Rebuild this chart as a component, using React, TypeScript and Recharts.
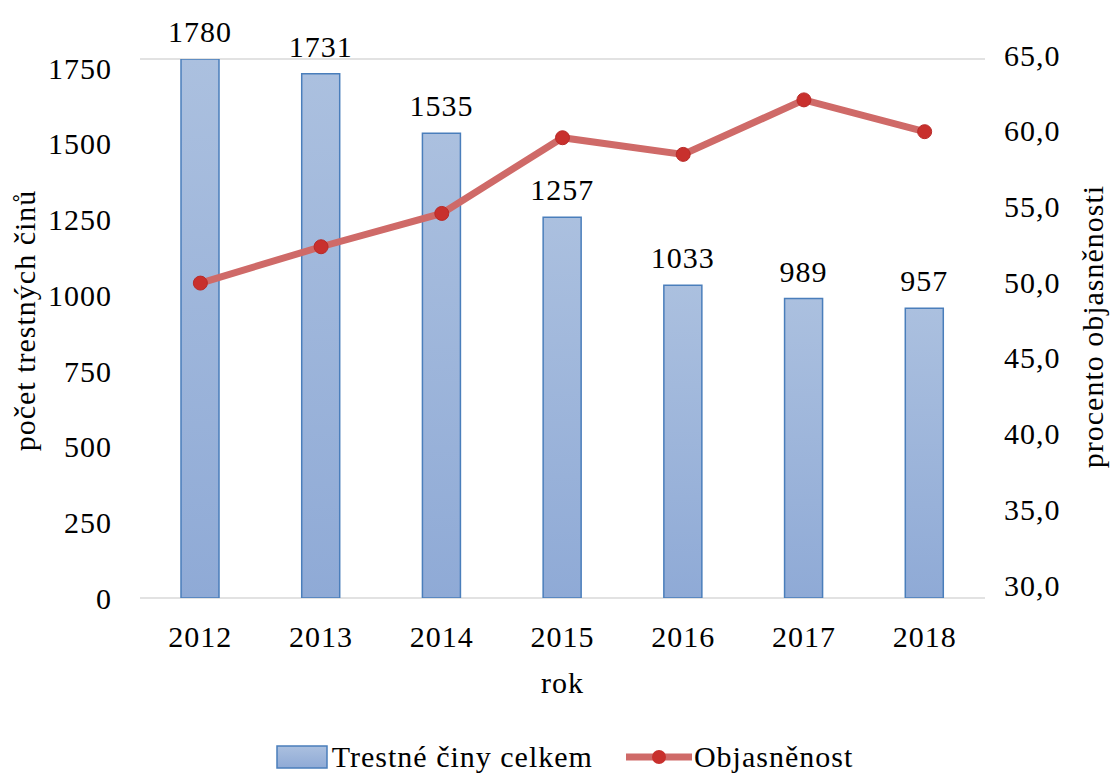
import {
  Bar,
  CartesianGrid,
  ComposedChart,
  LabelList,
  Legend,
  Line,
  XAxis,
  YAxis
} from "recharts";

const years = ["2012", "2013", "2014", "2015", "2016", "2017", "2018"];
const crimes = [1780, 1731, 1535, 1257, 1033, 989, 957];
const clearance = [50.8, 53.2, 55.4, 60.4, 59.3, 62.9, 60.8];
const countTicks = [0, 250, 500, 750, 1000, 1250, 1500, 1750];
const pctTicks = [30, 35, 40, 45, 50, 55, 60, 65];

const data = years.map((rok, i) => ({ rok, crimes: crimes[i], clearance: clearance[i] }));

const FONT = "'Liberation Serif', 'Times New Roman', serif";
const FS = 30;
const BAR_STROKE = "#4a7ebb";
const LINE_COLOR = "#cf6a68";
const DOT_COLOR = "#c8302d";

const fmtPct = (v: number) => v.toFixed(1).replace(".", ",");

// right axis labels sit a bit above their gridlines in the original
function RightTick({ x, y, payload }: any) {
  return (
    <text x={x} y={y - 13} dy="0.35em" textAnchor="start" fontSize={FS} fill="#000" fontFamily={FONT}>
      {fmtPct(payload.value)}
    </text>
  );
}

function renderLegend() {
  return (
    <div
      style={{
        display: "flex",
        justifyContent: "center",
        alignItems: "center",
        paddingLeft: 14,
        fontFamily: FONT,
        fontSize: FS,
        color: "#000"
      }}
    >
      <svg width={52} height={24} style={{ marginRight: 4 }}>
        <defs>
          <linearGradient id="legBar" x1="0" y1="0" x2="0" y2="1">
            <stop offset="0%" stopColor="#abc0df" />
            <stop offset="100%" stopColor="#8faad6" />
          </linearGradient>
        </defs>
        <rect x={1} y={1} width={50} height={22} fill="url(#legBar)" stroke={BAR_STROKE} strokeWidth={1.5} />
      </svg>
      <span>Trestné činy celkem</span>
      <svg width={66} height={24} style={{ marginLeft: 33, marginRight: 2 }}>
        <line x1={0} y1={12} x2={66} y2={12} stroke={LINE_COLOR} strokeWidth={7} />
        <circle cx={33} cy={12} r={7} fill={DOT_COLOR} />
      </svg>
      <span>Objasněnost</span>
    </div>
  );
}

export default function App() {
  return (
    <div
      style={{
        position: "absolute",
        left: 0,
        top: 0,
        width: 1115,
        height: 773,
        background: "#fff",
        fontFamily: FONT,
        letterSpacing: "1px"
      }}
    >
      <ComposedChart
        width={1115}
        height={773}
        data={data}
        margin={{ top: 59, right: 0, bottom: 0, left: 0 }}
        barSize={38}
      >
        <defs>
          <linearGradient id="barGrad" x1="0" y1="0" x2="0" y2="1">
            <stop offset="0%" stopColor="#abc0df" />
            <stop offset="100%" stopColor="#8faad6" />
          </linearGradient>
        </defs>
        <CartesianGrid vertical={false} stroke="#d9d9d9" strokeWidth={1.5} />
        <XAxis
          dataKey="rok"
          height={113}
          axisLine={false}
          tickLine={false}
          tickMargin={22}
          tick={{ fontSize: FS, fill: "#000", fontFamily: FONT }}
          label={{ value: "rok", position: "center", dy: 28, fontSize: FS, fill: "#000", fontFamily: FONT }}
        />
        <YAxis
          yAxisId="left"
          width={140}
          domain={[0, 1780]}
          ticks={countTicks}
          interval={0}
          allowDataOverflow
          axisLine={false}
          tickLine={false}
          tickMargin={22}
          tick={{ fontSize: FS, fill: "#000", fontFamily: FONT }}
          label={{
            value: "počet trestných činů",
            angle: -90,
            position: "center",
            dx: -46,
            dy: -8,
            fontSize: FS,
            fill: "#000",
            fontFamily: FONT
          }}
        />
        <YAxis
          yAxisId="right"
          orientation="right"
          width={130}
          domain={[30, 65.6]}
          ticks={pctTicks}
          interval={0}
          allowDataOverflow
          axisLine={false}
          tickLine={false}
          tickMargin={13}
          tick={<RightTick />}
          label={{
            value: "procento objasněnosti",
            angle: -90,
            position: "center",
            dx: 42,
            dy: -2,
            fontSize: FS,
            fill: "#000",
            fontFamily: FONT
          }}
        />
        <Legend verticalAlign="bottom" height={62} content={renderLegend} wrapperStyle={{ top: 740, bottom: "auto" }} />
        <Bar
          yAxisId="left"
          dataKey="crimes"
          name="Trestné činy celkem"
          fill="url(#barGrad)"
          stroke={BAR_STROKE}
          strokeWidth={1.5}
          isAnimationActive={false}
        >
          <LabelList dataKey="crimes" position="top" offset={17} fontSize={FS} fill="#000" fontFamily={FONT} />
        </Bar>
        <Line
          yAxisId="right"
          dataKey="clearance"
          name="Objasněnost"
          type="linear"
          stroke={LINE_COLOR}
          strokeWidth={7}
          dot={{ r: 7, fill: DOT_COLOR, stroke: "#b82a28", strokeWidth: 1 }}
          activeDot={false}
          isAnimationActive={false}
        />
      </ComposedChart>
    </div>
  );
}
